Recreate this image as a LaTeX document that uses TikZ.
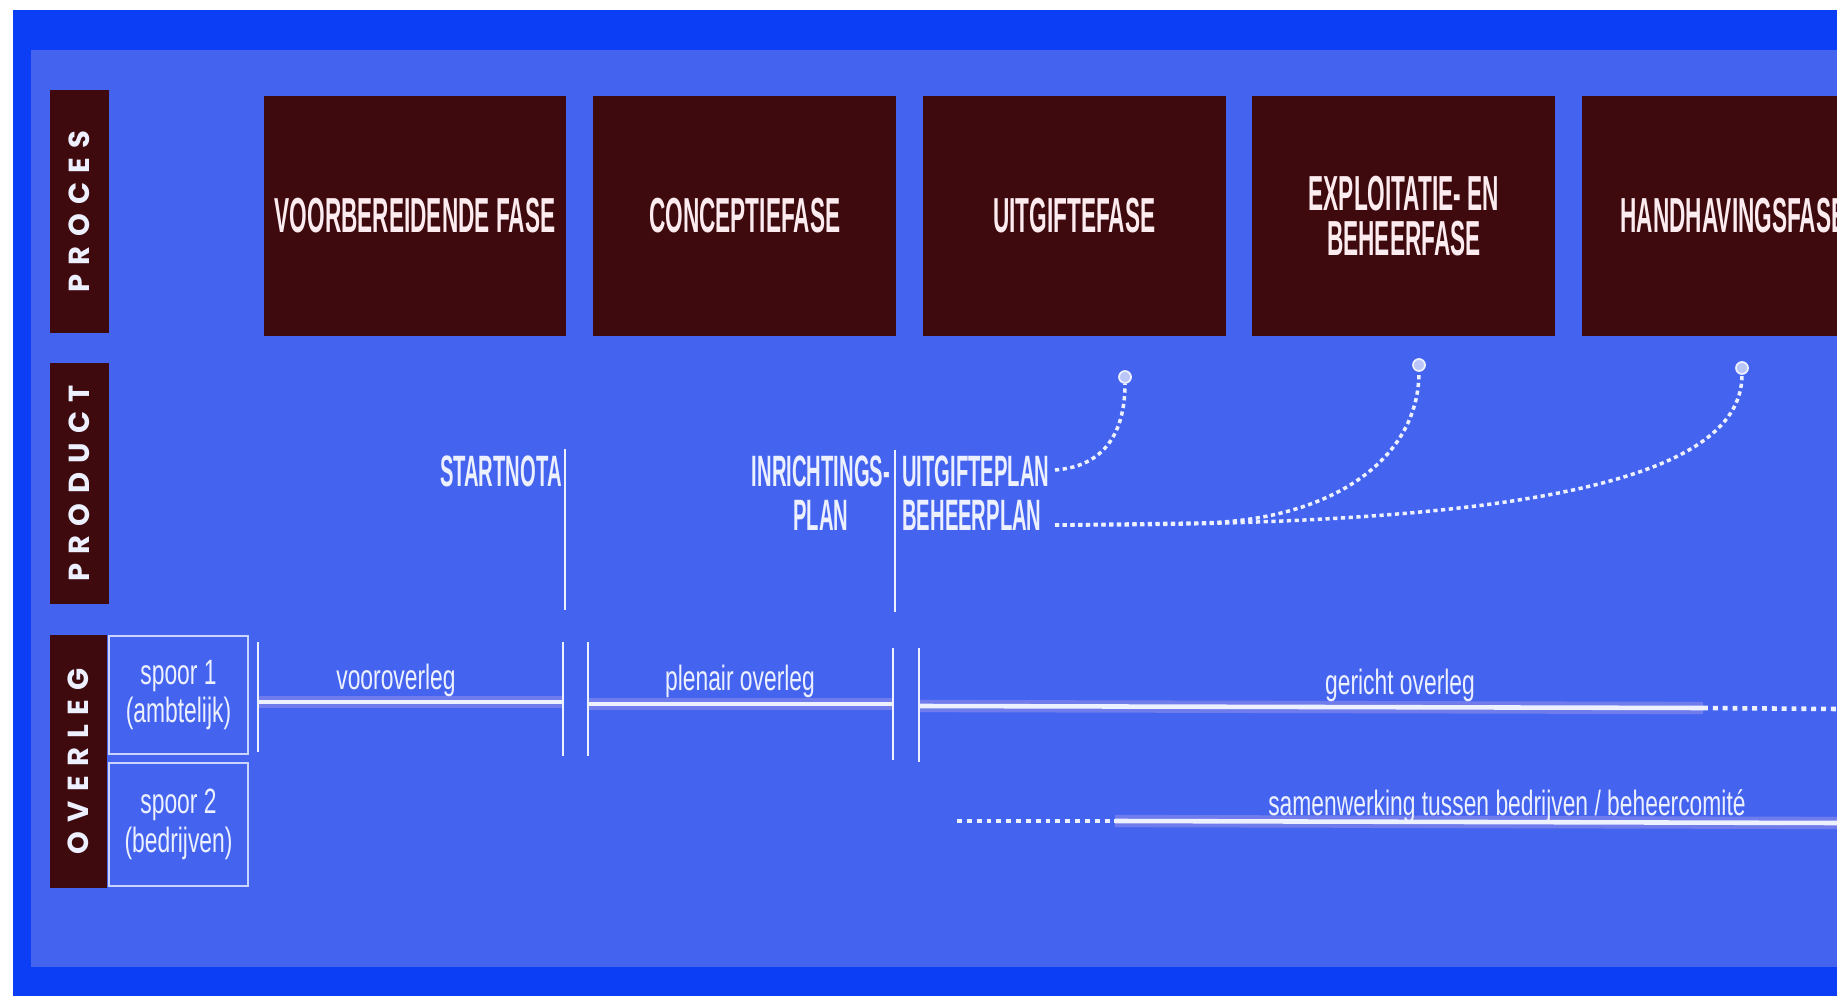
\documentclass[tikz,border=0pt]{standalone}
\usepackage{fontspec}
\setmainfont{Liberation Sans}
\newfontfamily\smalfont[FakeStretch=0.46]{Liberation Sans}
\newfontfamily\laagfont[FakeStretch=0.65]{Liberation Sans}
\newfontfamily\breedfont[LetterSpace=32]{Poppins}
\usetikzlibrary{positioning}

\definecolor{buitenblauw}{RGB}{12,62,246}
\definecolor{paneelblauw}{RGB}{68,100,240}
\definecolor{bordeaux}{RGB}{62,10,14}
\definecolor{lichtwit}{RGB}{236,240,255}
\definecolor{roze}{RGB}{252,236,240}
\definecolor{gloed}{RGB}{112,124,236}

\tikzset{
  fase/.style={fill=bordeaux, text=roze, minimum width=6.06cm, minimum height=4.82cm,
    align=center, inner sep=0pt, font=\smalfont\bfseries\fontsize{28}{26}\selectfont},
  baan/.style={fill=bordeaux, text=lichtwit, rotate=90, inner sep=0pt, minimum height=1.18cm,
    font=\breedfont\bfseries\fontsize{16.5}{16.5}\selectfont},
  spoorbox/.style={draw=lichtwit!80!paneelblauw, line width=1.2pt, minimum width=2.78cm,
    align=center, inner sep=0pt, text=lichtwit, font=\laagfont\fontsize{20}{22}\selectfont},
  prodtekst/.style={text=lichtwit, inner sep=0pt, font=\smalfont\bfseries\fontsize{25}{25}\selectfont},
  overlabel/.style={text=lichtwit, inner sep=0pt, anchor=base, font=\laagfont\fontsize{20}{22}\selectfont},
  mijlpaal/.style={draw=lichtwit, line width=1.6pt},
  overlijn/.style={draw=lichtwit, line width=2.6pt, preaction={draw=gloed, line width=7pt}},
  stippel/.style={draw=lichtwit, line width=2pt, dash pattern=on 2.4pt off 2pt},
  stippeldik/.style={draw=lichtwit, line width=2.6pt, dash pattern=on 2.8pt off 2.8pt},
  bolletje/.style={circle, draw=lichtwit, fill=lichtwit!70!paneelblauw, line width=1pt,
    minimum size=0.24cm, inner sep=0pt}
}

\begin{document}
\begin{tikzpicture}[x=0.02cm, y=-0.02cm]
  \useasboundingbox (0,0) rectangle (1837,996);
  \clip (0,0) rectangle (1837,996);
  % achtergrond
  \fill[white] (0,0) rectangle (1837,996);
  \fill[buitenblauw] (13,10) rectangle (1837,996);
  \fill[paneelblauw] (31,50) rectangle (1837,967);

  % banen links
  \node[baan, minimum width=4.86cm] (proces) at (79.5,211.5) {PROCES};
  \node[baan, minimum width=4.82cm] (product) at (79.5,483.5) {PRODUCT};
  \node[baan, minimum width=5.06cm, minimum height=1.14cm] (overleg) at (78.5,761.5) {OVERLEG};
  \node[spoorbox, minimum height=2.36cm] (spoor1) at (178.5,695) {spoor 1\\(ambtelijk)};
  \node[spoorbox, minimum height=2.46cm] (spoor2) at (178.5,824.5) {spoor 2\\(bedrijven)};

  % fasen
  \node[fase] (voorber) at (415,216) {VOORBEREIDENDE FASE};
  \node[fase, right=0.52cm of voorber] (concept) {CONCEPTIEFASE};
  \node[fase, right=0.52cm of concept] (uitgifte) {UITGIFTEFASE};
  \node[fase, right=0.52cm of uitgifte] (exploit) {EXPLOITATIE- EN\\BEHEERFASE};
  \node[fase, right=0.52cm of exploit] (handhaving) {HANDHAVINGSFASE};

  % producten
  \node[prodtekst, anchor=east] (startnota) at (562,471) {STARTNOTA};
  \node[prodtekst, align=center] (inricht) at (821,493) {INRICHTINGS-\\PLAN};
  \node[prodtekst, anchor=west] (uitplan) at (902,471) {UITGIFTEPLAN};
  \node[prodtekst, anchor=west] (behplan) at (902,515) {BEHEERPLAN};
  \coordinate (m1a) at (565,449); \coordinate (m1b) at (565,610);
  \coordinate (m2a) at (895,450); \coordinate (m2b) at (895,612);
  \draw[mijlpaal] (m1a) -- (m1b);
  \draw[mijlpaal] (m2a) -- (m2b);

  \coordinate (uitstart) at (1055,470);
  \coordinate (behstart) at (1055,525);
  \node[bolletje] (punt1) at (1125,377) {};
  \node[bolletje] (punt2) at (1419,365) {};
  \node[bolletje] (punt3) at (1742,368) {};
  \draw[stippel] (uitstart) .. controls (1110,466) and (1125,425) .. (punt1);
  \draw[stippel] (behstart) -- (1200,523) .. controls (1330,521) and (1419,460) .. (punt2);
  \draw[stippel] (behstart) .. controls (1500,526) and (1742,485) .. (punt3);

  % overleg
  \coordinate (vo1) at (258,702); \coordinate (vo2) at (563,702);
  \coordinate (pl1) at (588,704); \coordinate (pl2) at (893,704);
  \coordinate (ge1) at (919,706); \coordinate (ge2) at (1703,708); \coordinate (ge3) at (1837,709);
  \coordinate (sa1) at (957,821); \coordinate (sa2) at (1115,821); \coordinate (sa3) at (1837,823);
  \draw[overlijn] (vo1) -- (vo2);
  \draw[overlijn] (pl1) -- (pl2);
  \draw[overlijn] (ge1) -- (ge2);
  \draw[stippeldik] (ge2) -- (ge3);
  \draw[stippeldik] (sa1) -- (sa2);
  \draw[overlijn] (sa2) -- (sa3);
  \foreach \x/\a/\b in {258/642/752, 563/642/756, 588/642/756, 893/648/760, 919/648/762}
    \draw[mijlpaal] (\x,\a) -- (\x,\b);

  \node[overlabel] (voortekst) at (396,690) {vooroverleg};
  \node[overlabel] (plenair) at (740,691) {plenair overleg};
  \node[overlabel] (gericht) at (1400,695) {gericht overleg};
  \node[overlabel] (samen) at (1507,815) {samenwerking tussen bedrijven / beheercomité};
\end{tikzpicture}
\end{document}
